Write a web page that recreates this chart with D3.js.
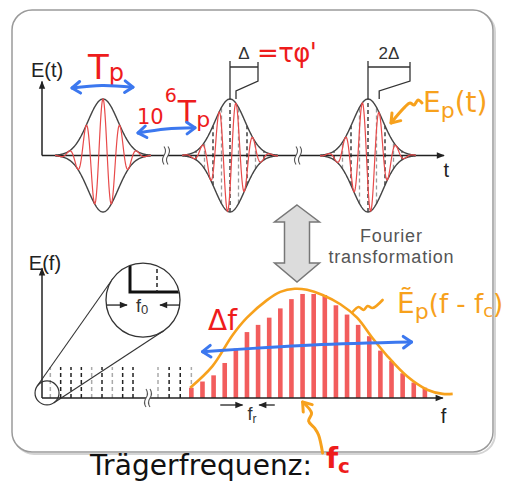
<!DOCTYPE html>
<html>
<head>
<meta charset="utf-8">
<script src="https://cdn.jsdelivr.net/npm/d3@7"></script>
<style>
  body { margin: 0; background: #fff; }
  svg { display: block; }
</style>
</head>
<body>
<svg id="chart" width="507" height="481"></svg>
<script>
// ---- time domain (units along the t axis) ----
var pulseCenters = [15.25, 47, 81.5];
var carrierShifts = [0, 1.5, 2.8];        // 0, Δ, 2Δ
var phaseGrid = [false, true, true];
var bracketWidths = [null, 7, 10.5];
var bracketLabels = [null, 'Δ', '2Δ'];
var pulseSigma = 3.75;
var carrierPeriod = 4.25;
var timeBreaks = [31, 64];

// ---- frequency domain (mode index along the f axis) ----
var combModes = [1, 2, 3, 4, 5, 6, 7, 8, 9, 10, 11, 12, 13];
var combGray = [1, 5, 7, 10, 13];
var combLevel = 30;
var barModes = [13, 14, 15, 16, 17, 18, 19, 20, 21, 22, 23, 24, 25, 26, 27, 28, 29, 30, 31, 32, 33, 34];
var barValues = [10, 16, 22, 34, 48, 64, 71, 78, 87, 96, 101, 101, 100, 90, 81, 71, 60, 46, 36, 24, 15, 10];
var envModes = [12.9, 14.9, 16.7, 18.0, 19.8, 21.0, 22.3, 23.4, 24.8, 26.4, 27.9, 29.3, 30.6, 32.4, 34.2, 35.6, 36.5];
var envValues = [10, 31, 61, 78, 95, 103, 106, 105, 100, 91, 78, 58, 41, 21, 8, 4, 4];
var freqBreak = 9.6;

var HAND = '"DejaVu Sans", sans-serif';
var SANS = '"Liberation Sans", Arial, sans-serif';
var RED = '#ee1c1c', BLUE = '#3c78ef', ORANGE = '#f7a11c', BAR = '#f25d5d';

var svg = d3.select('#chart');
var defs = svg.append('defs');
defs.append('marker')
  .attr('id', 'axhead').attr('viewBox', '0 0 10 10')
  .attr('refX', 9).attr('refY', 5)
  .attr('markerUnits', 'userSpaceOnUse')
  .attr('markerWidth', 9).attr('markerHeight', 8)
  .attr('orient', 'auto')
  .append('path').attr('d', 'M0,1 L10,5 L0,9 Z').attr('fill', '#222');

// frame
svg.append('rect').attr('x', 14).attr('y', 12).attr('width', 481).attr('height', 442)
  .attr('rx', 20).attr('fill', 'none').attr('stroke', '#d4d4d4').attr('stroke-width', 2);
svg.append('rect').attr('x', 12).attr('y', 10).attr('width', 481).attr('height', 442)
  .attr('rx', 20).attr('fill', '#fff').attr('stroke', '#9a9a9a').attr('stroke-width', 1.5);

function breakMark(g, x, y) {
  g.append('rect').attr('x', x - 2).attr('y', y - 3).attr('width', 4).attr('height', 6).attr('fill', '#fff');
  [-2, 2].forEach(function (dx) {
    g.append('path')
      .attr('d', 'M' + (x + dx) + ',' + (y - 9) + ' q 3,4.5 0,9 q -3,4.5 0,9')
      .attr('fill', 'none').attr('stroke', '#555').attr('stroke-width', 1.1);
  });
}

function handArrow(g, pts, color, heads) {
  g.append('path')
    .attr('d', d3.line().curve(d3.curveCatmullRom)(pts))
    .attr('fill', 'none').attr('stroke', color).attr('stroke-width', 3)
    .attr('stroke-linecap', 'round');
  heads.forEach(function (end) {
    var a = end === 'end' ? pts[pts.length - 1] : pts[0];
    var b = end === 'end' ? pts[pts.length - 2] : pts[1];
    var ang = Math.atan2(a[1] - b[1], a[0] - b[0]);
    var L = 10, s = 0.62;
    var p1 = [a[0] - L * Math.cos(ang - s), a[1] - L * Math.sin(ang - s)];
    var p2 = [a[0] - L * Math.cos(ang + s), a[1] - L * Math.sin(ang + s)];
    g.append('path').attr('d', 'M' + p1 + 'L' + a + 'L' + p2)
      .attr('fill', 'none').attr('stroke', color).attr('stroke-width', 3)
      .attr('stroke-linecap', 'round').attr('stroke-linejoin', 'round');
  });
}

// =================== top: E(t) ===================
var xT = d3.scaleLinear().domain([0, 100]).range([42, 442]);
var yT = d3.scaleLinear().domain([-1, 1]).range([212, 99]);
var gT = svg.append('g');

gT.append('line').attr('x1', xT(0)).attr('y1', yT(0)).attr('x2', xT(100.5)).attr('y2', yT(0))
  .attr('stroke', '#222').attr('stroke-width', 1.5).attr('marker-end', 'url(#axhead)');
gT.append('line').attr('x1', xT(0)).attr('y1', yT(0)).attr('x2', xT(0)).attr('y2', yT(1.31))
  .attr('stroke', '#222').attr('stroke-width', 1.5).attr('marker-end', 'url(#axhead)');
timeBreaks.forEach(function (u) { breakMark(gT, xT(u), yT(0)); });

gT.append('text').attr('x', xT(1.25)).attr('y', yT(1.39)).attr('text-anchor', 'middle')
  .attr('font-family', SANS).attr('font-size', 20).attr('fill', '#222').text('E(t)');
gT.append('text').attr('x', xT(101.1)).attr('y', yT(-0.38)).attr('text-anchor', 'middle')
  .attr('font-family', SANS).attr('font-size', 20).attr('fill', '#222').text('t');

pulseCenters.forEach(function (c, i) {
  var env = function (t) { return Math.exp(-(t - c) * (t - c) / (2 * pulseSigma * pulseSigma)); };
  var ts = d3.range(c - 12, c + 12.001, 0.1);
  var g = gT.append('g');

  if (phaseGrid[i]) {
    d3.range(-5, 6).forEach(function (k) {
      var t = c + k * carrierPeriod / 2, e = env(t);
      if (e < 0.07) return;
      g.append('line').attr('x1', xT(t)).attr('x2', xT(t)).attr('y1', yT(-e)).attr('y2', yT(e))
        .attr('stroke', k % 2 === 0 ? '#222' : '#999').attr('stroke-width', 1.3)
        .attr('stroke-dasharray', '4,3');
    });
  }
  [1, -1].forEach(function (sgn) {
    g.append('path')
      .attr('d', d3.line().x(function (t) { return xT(t); }).y(function (t) { return yT(sgn * env(t)); })(ts))
      .attr('fill', 'none').attr('stroke', '#444').attr('stroke-width', 1.4);
  });
  g.append('path')
    .attr('d', d3.line()
      .x(function (t) { return xT(t); })
      .y(function (t) { return yT(env(t) * Math.cos(2 * Math.PI * (t - c - carrierShifts[i]) / carrierPeriod)); })(ts))
    .attr('fill', 'none').attr('stroke', '#e84a4a').attr('stroke-width', 1.2);

  if (bracketWidths[i]) {
    var x0 = xT(c), x1 = xT(c + bracketWidths[i]), xs = xT(c + carrierShifts[i]);
    var top = yT(1);
    g.append('path')
      .attr('d', 'M' + x0 + ',' + top + 'V' + (top - 38) +
        'M' + x0 + ',' + (top - 32) + 'H' + x1 +
        'M' + x1 + ',' + (top - 37) + 'V' + (top - 18) +
        'L' + xs + ',' + (top - 8) + 'V' + top)
      .attr('fill', 'none').attr('stroke', '#333').attr('stroke-width', 1.3);
    g.append('text').attr('x', (x0 + x1) / 2).attr('y', top - 40).attr('text-anchor', 'middle')
      .attr('font-family', SANS).attr('font-size', 17).attr('fill', '#333').text(bracketLabels[i]);
  }
});

// hand annotations, top
var hT = svg.append('g');
var tp = hT.append('text').attr('x', xT(11.5)).attr('y', yT(1.36)).attr('font-family', HAND).attr('fill', RED);
tp.append('tspan').attr('font-size', 34).text('T');
tp.append('tspan').attr('font-size', 24).attr('dy', 2).text('p');
handArrow(hT, [[xT(7.5), yT(1.195)], [xT(15), yT(1.24)], [xT(22.75), yT(1.21)]], BLUE, ['start', 'end']);

var t6 = hT.append('text').attr('x', xT(23.75)).attr('y', yT(0.56)).attr('font-family', HAND).attr('fill', RED);
t6.append('tspan').attr('font-size', 21).text('10');
t6.append('tspan').attr('font-size', 19).attr('dy', -22).attr('dx', 1).text('6');
t6.append('tspan').attr('font-size', 30).attr('dy', 20).attr('dx', 1).text('T');
t6.append('tspan').attr('font-size', 22).attr('dy', 5).text('p');
handArrow(hT, [[xT(24), yT(0.4)], [xT(31), yT(0.47)], [xT(38.25), yT(0.49)]], BLUE, ['start', 'end']);

hT.append('text').attr('x', xT(53.75)).attr('y', yT(1.655)).attr('font-family', HAND)
  .attr('font-size', 26).attr('fill', RED).attr('textLength', 60).text('=τφ\'');

var ep = hT.append('text').attr('x', xT(95.25)).attr('y', yT(0.77)).attr('font-family', HAND).attr('fill', ORANGE);
ep.append('tspan').attr('font-size', 28).text('E');
ep.append('tspan').attr('font-size', 22).attr('dy', 6).text('p');
ep.append('tspan').attr('font-size', 28).attr('dy', -6).text('(t)');
var epA = [xT(95), yT(0.93)];
var epSquiggle = [[0, 0], [-4, -3], [-8, 2], [-12, 0], [-17, 4], [-31, 20]];
handArrow(hT, epSquiggle.map(function (d) { return [epA[0] + d[0], epA[1] + d[1]]; }), ORANGE, ['end']);

// =================== bottom: E(f) ===================
var xF = d3.scaleLinear().domain([0, 9, 10, 35]).range([40, 133, 158, 436]);
var yF = d3.scaleLinear().domain([0, 100]).range([398, 295]);
var gB = svg.append('g');

// Fourier arrow
var fa = { x: xF(22.5), top: yF(187.4), hb: yF(170.9), sb: yF(131), bot: yF(112.6), hw: 22.5, sw: 12.5 };
gB.append('path')
  .attr('d', 'M' + fa.x + ',' + fa.top +
    'L' + (fa.x + fa.hw) + ',' + fa.hb + 'H' + (fa.x + fa.sw) + 'V' + fa.sb +
    'H' + (fa.x + fa.hw) + 'L' + fa.x + ',' + fa.bot + 'L' + (fa.x - fa.hw) + ',' + fa.sb +
    'H' + (fa.x - fa.sw) + 'V' + fa.hb + 'H' + (fa.x - fa.hw) + 'Z')
  .attr('fill', '#dcdcdc').attr('stroke', '#777').attr('stroke-width', 1.5);
gB.append('text').attr('x', xF(30.95)).attr('y', yF(151.5)).attr('text-anchor', 'middle')
  .attr('font-family', SANS).attr('font-size', 18).attr('fill', '#555')
  .attr('textLength', 62).text('Fourier');
gB.append('text').attr('x', xF(30.95)).attr('y', yF(131)).attr('text-anchor', 'middle')
  .attr('font-family', SANS).attr('font-size', 18).attr('fill', '#555')
  .attr('textLength', 125).text('transformation');

// comb (dashed) lines
combModes.forEach(function (m) {
  gB.append('line').attr('x1', xF(m)).attr('x2', xF(m)).attr('y1', yF(0)).attr('y2', yF(combLevel))
    .attr('stroke', combGray.indexOf(m) >= 0 ? '#aaa' : '#222').attr('stroke-width', 1.5)
    .attr('stroke-dasharray', '4,3');
});

// red bars
gB.selectAll('rect.bar').data(barModes).join('rect').attr('class', 'bar')
  .attr('x', function (m) { return xF(m) - 2.3; })
  .attr('width', 4.6)
  .attr('y', function (m, i) { return yF(barValues[i]); })
  .attr('height', function (m, i) { return yF(0) - yF(barValues[i]); })
  .attr('fill', BAR);

// axes
gB.append('line').attr('x1', xT(0)).attr('y1', yF(0)).attr('x2', xT(100.2)).attr('y2', yF(0))
  .attr('stroke', '#222').attr('stroke-width', 1.5).attr('marker-end', 'url(#axhead)');
gB.append('line').attr('x1', xT(0)).attr('y1', yF(0)).attr('x2', xT(0)).attr('y2', yF(126))
  .attr('stroke', '#222').attr('stroke-width', 1.5).attr('marker-end', 'url(#axhead)');
breakMark(gB, xF(freqBreak), yF(0));
gB.append('text').attr('x', xF(0.48)).attr('y', yF(124.3)).attr('text-anchor', 'middle')
  .attr('font-family', SANS).attr('font-size', 20).attr('fill', '#222').text('E(f)');
gB.append('text').attr('x', xF(35.67)).attr('y', yF(-24.3)).attr('text-anchor', 'middle')
  .attr('font-family', SANS).attr('font-size', 20).attr('fill', '#222').text('f');

// f_r marker
var frY = yF(-6.8);
gB.append('line').attr('x1', xF(15.6)).attr('x2', xF(17.6)).attr('y1', frY).attr('y2', frY)
  .attr('stroke', '#222').attr('stroke-width', 1.3).attr('marker-end', 'url(#axhead)');
gB.append('line').attr('x1', xF(20.5)).attr('x2', xF(19.1)).attr('y1', frY).attr('y2', frY)
  .attr('stroke', '#222').attr('stroke-width', 1.3).attr('marker-end', 'url(#axhead)');
var fr = gB.append('text').attr('x', xF(18.05)).attr('y', yF(-21.4))
  .attr('font-family', SANS).attr('fill', '#333');
fr.append('tspan').attr('font-size', 18).text('f');
fr.append('tspan').attr('font-size', 12).attr('dy', 3).text('r');

// magnifier
var magSmall = [0.68, 4.9], magBig = [9.4, 95.1];
var sC = { x: xF(magSmall[0]), y: yF(magSmall[1]), r: 12 };
var bC = { x: xF(magBig[0]), y: yF(magBig[1]), r: 37 };
(function () {
  var dx = bC.x - sC.x, dy = bC.y - sC.y, d = Math.hypot(dx, dy);
  var th = Math.atan2(dy, dx), phi = Math.acos(-(bC.r - sC.r) / d);
  [th + phi, th - phi].forEach(function (a) {
    var n = [Math.cos(a), Math.sin(a)];
    gB.append('line')
      .attr('x1', sC.x + sC.r * n[0]).attr('y1', sC.y + sC.r * n[1])
      .attr('x2', bC.x + bC.r * n[0]).attr('y2', bC.y + bC.r * n[1])
      .attr('stroke', '#333').attr('stroke-width', 1.1);
  });
})();
gB.append('circle').attr('cx', sC.x).attr('cy', sC.y).attr('r', sC.r)
  .attr('fill', 'none').attr('stroke', '#333').attr('stroke-width', 1.2);
gB.append('circle').attr('cx', bC.x).attr('cy', bC.y).attr('r', bC.r)
  .attr('fill', '#fff').attr('stroke', '#333').attr('stroke-width', 1.3);
defs.append('clipPath').attr('id', 'magclip').append('circle')
  .attr('cx', bC.x).attr('cy', bC.y).attr('r', bC.r - 0.5);
var mg = gB.append('g').attr('clip-path', 'url(#magclip)');
mg.append('path').attr('d', 'M' + (bC.x - 13) + ',' + (bC.y - 50) + 'V' + (bC.y - 8) + 'H' + (bC.x + 50))
  .attr('fill', 'none').attr('stroke', '#111').attr('stroke-width', 3);
mg.append('line').attr('x1', bC.x + 14).attr('x2', bC.x + 14).attr('y1', bC.y - 45).attr('y2', bC.y - 8)
  .attr('stroke', '#222').attr('stroke-width', 1.5).attr('stroke-dasharray', '4,3');
gB.append('line').attr('x1', bC.x - 36).attr('x2', bC.x - 16).attr('y1', bC.y + 5).attr('y2', bC.y + 5)
  .attr('stroke', '#222').attr('stroke-width', 1.3).attr('marker-end', 'url(#axhead)');
gB.append('line').attr('x1', bC.x + 37).attr('x2', bC.x + 17).attr('y1', bC.y + 5).attr('y2', bC.y + 5)
  .attr('stroke', '#222').attr('stroke-width', 1.3).attr('marker-end', 'url(#axhead)');
var f0 = gB.append('text').attr('x', bC.x - 7).attr('y', bC.y + 12)
  .attr('font-family', SANS).attr('fill', '#333');
f0.append('tspan').attr('font-size', 18).text('f');
f0.append('tspan').attr('font-size', 13).attr('dy', 2).text('0');

// spectral envelope (hand drawn)
var hB = svg.append('g');
hB.append('path')
  .attr('d', d3.line().curve(d3.curveCatmullRom)
    .x(function (m) { return xF(m); })
    .y(function (m, i) { return yF(envValues[i]); })(envModes))
  .attr('fill', 'none').attr('stroke', ORANGE).attr('stroke-width', 2.6);

handArrow(hB, [[xF(14.0), yF(45)], [xF(23.9), yF(51.5)], [xF(32.8), yF(54.4)]], BLUE, ['start', 'end']);

var df = hB.append('text').attr('x', xF(14.5)).attr('y', yF(66)).attr('font-family', HAND)
  .attr('font-size', 28).attr('fill', RED).text('Δf');

var eps = hB.append('text').attr('x', xF(31.5)).attr('y', yF(82.5)).attr('font-family', HAND).attr('fill', ORANGE);
eps.append('tspan').attr('font-size', 28).text('Ẽ');
eps.append('tspan').attr('font-size', 22).attr('dy', 6).text('p');
eps.append('tspan').attr('font-size', 26).attr('dy', -6).text('(f - f');
eps.append('tspan').attr('font-size', 18).attr('dy', 4).text('c');
eps.append('tspan').attr('font-size', 26).attr('dy', -4).text(')');

var tilA = [xF(27.5), yF(83.5)];
var tilde = [[0, 0], [6, -5], [11, -2], [15, -6], [20, -4], [30, -12]];
hB.append('path')
  .attr('d', d3.line().curve(d3.curveCatmullRom)(tilde.map(function (d) { return [tilA[0] + d[0], tilA[1] + d[1]]; })))
  .attr('fill', 'none').attr('stroke', ORANGE).attr('stroke-width', 2.6).attr('stroke-linecap', 'round');

var fcA = [xF(24.8), yF(-53.4)];
var fcSquiggle = [[0, 0], [-4, -18], [-8, -25], [-14, -32], [-11, -40], [-20, -51]];
handArrow(hB, fcSquiggle.map(function (d) { return [fcA[0] + d[0], fcA[1] + d[1]]; }), ORANGE, ['end']);

var fc = hB.append('text').attr('x', xF(25.1)).attr('y', yF(-68)).attr('font-family', HAND)
  .attr('font-weight', 'bold').attr('fill', RED);
fc.append('tspan').attr('font-size', 28).text('f');
fc.append('tspan').attr('font-size', 20).attr('dy', 5).text('c');

// caption
var cap = svg.append('text').attr('x', 90).attr('y', 475).attr('font-family', HAND);
cap.append('tspan').attr('font-size', 28).attr('fill', '#111').attr('textLength', 222).text('Trägerfrequenz:');
</script>
</body>
</html>
